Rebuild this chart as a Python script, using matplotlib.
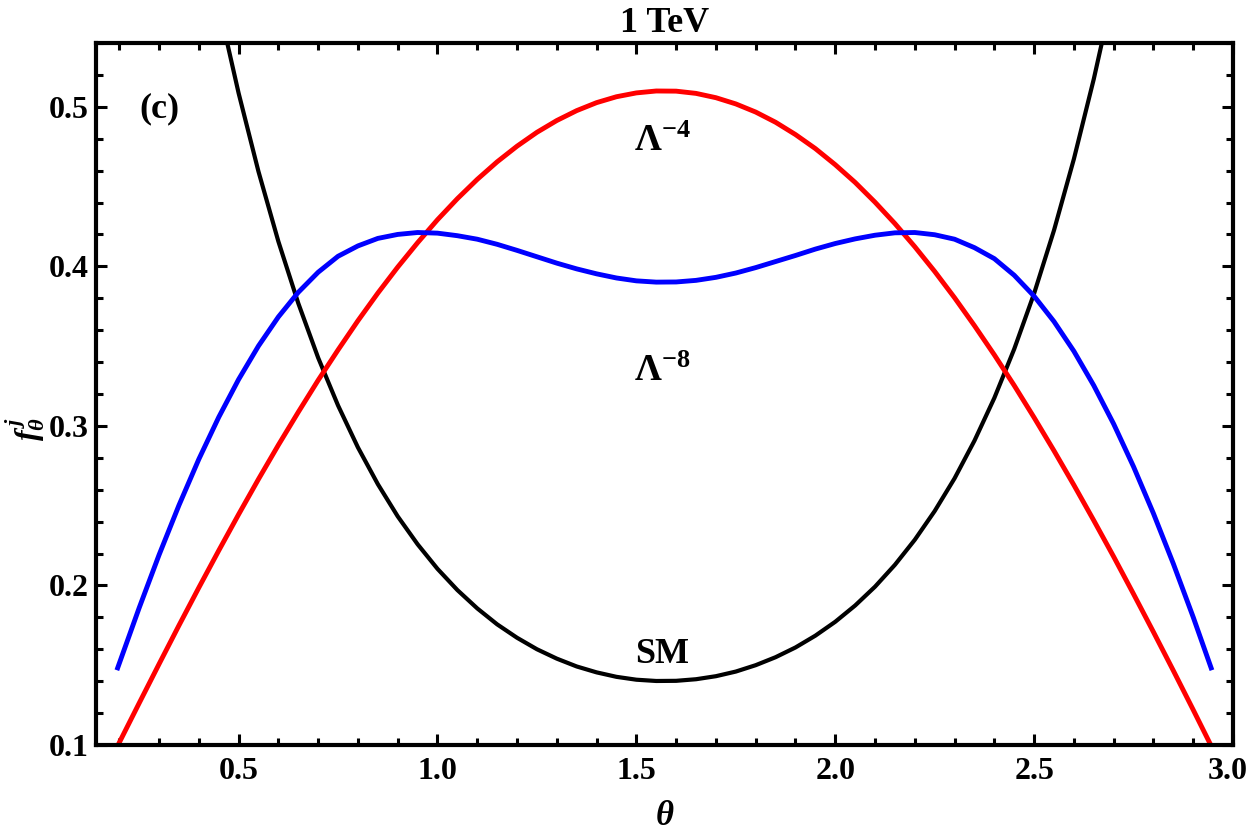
import matplotlib
matplotlib.use("Agg")
import matplotlib.pyplot as plt
from matplotlib.ticker import MultipleLocator, FormatStrFormatter
from matplotlib.transforms import ScaledTranslation

plt.rcParams['font.family'] = 'Liberation Serif'
plt.rcParams['font.weight'] = 'bold'
plt.rcParams['mathtext.fontset'] = 'custom'
plt.rcParams['mathtext.rm'] = 'Liberation Serif:bold'
plt.rcParams['mathtext.bf'] = 'Liberation Serif:bold'
plt.rcParams['mathtext.it'] = 'Liberation Serif:bold:italic'

# values
theta_sm = [0.45, 0.50, 0.55, 0.60, 0.65, 0.70, 0.75, 0.80, 0.85, 0.90, 0.95,
            1.00, 1.05, 1.10, 1.15, 1.20, 1.25, 1.30, 1.35, 1.40, 1.45, 1.50,
            1.55, 1.60, 1.65, 1.70, 1.75, 1.80, 1.85, 1.90, 1.95, 2.00, 2.05,
            2.10, 2.15, 2.20, 2.25, 2.30, 2.35, 2.40, 2.45, 2.50, 2.55, 2.60,
            2.65, 2.70]
f_sm = [0.5635, 0.5086, 0.4594, 0.4156, 0.3769, 0.3427, 0.3128, 0.2865, 0.2635,
        0.2433, 0.2258, 0.2104, 0.1971, 0.1856, 0.1756, 0.1672, 0.1600, 0.1541,
        0.1492, 0.1455, 0.1427, 0.1409, 0.1401, 0.1402, 0.1412, 0.1431, 0.1460,
        0.1500, 0.1550, 0.1611, 0.1685, 0.1772, 0.1874, 0.1992, 0.2129, 0.2286,
        0.2466, 0.2671, 0.2907, 0.3175, 0.3482, 0.3830, 0.4226, 0.4673, 0.5174,
        0.5732]

theta = [0.196, 0.25, 0.30, 0.35, 0.40, 0.45, 0.50, 0.55, 0.60, 0.65, 0.70,
         0.75, 0.80, 0.85, 0.90, 0.95, 1.00, 1.05, 1.10, 1.15, 1.20, 1.25,
         1.30, 1.35, 1.40, 1.45, 1.50, 1.55, 1.60, 1.65, 1.70, 1.75, 1.80,
         1.85, 1.90, 1.95, 2.00, 2.05, 2.10, 2.15, 2.20, 2.25, 2.30, 2.35,
         2.40, 2.45, 2.50, 2.55, 2.60, 2.65, 2.70, 2.75, 2.80, 2.85, 2.90, 2.945]
f_l4 = [0.0995, 0.1262, 0.1507, 0.1749, 0.1986, 0.2218, 0.2445, 0.2666, 0.2880,
        0.3086, 0.3286, 0.3476, 0.3659, 0.3832, 0.3995, 0.4148, 0.4292, 0.4424,
        0.4545, 0.4655, 0.4753, 0.4840, 0.4914, 0.4976, 0.5026, 0.5063, 0.5087,
        0.5099, 0.5098, 0.5084, 0.5057, 0.5018, 0.4967, 0.4903, 0.4826, 0.4738,
        0.4637, 0.4526, 0.4402, 0.4268, 0.4123, 0.3968, 0.3803, 0.3628, 0.3445,
        0.3253, 0.3052, 0.2844, 0.2629, 0.2407, 0.2180, 0.1946, 0.1708, 0.1466,
        0.1220, 0.0995]
f_l8 = [0.1483, 0.1859, 0.2191, 0.2502, 0.2791, 0.3054, 0.3291, 0.3501, 0.3683,
        0.3837, 0.3963, 0.4063, 0.4128, 0.4175, 0.4200, 0.4212, 0.4208, 0.4192,
        0.4170, 0.4138, 0.4100, 0.4060, 0.4020, 0.3984, 0.3953, 0.3927, 0.3909,
        0.3901, 0.3902, 0.3912, 0.3931, 0.3958, 0.3992, 0.4030, 0.4068, 0.4108,
        0.4143, 0.4172, 0.4195, 0.4210, 0.4212, 0.4198, 0.4170, 0.4117, 0.4048,
        0.3944, 0.3813, 0.3654, 0.3468, 0.3253, 0.3012, 0.2744, 0.2451, 0.2136,
        0.1801, 0.1483]

fig = plt.figure(figsize=(12.5, 8.36), dpi=100)
ax = fig.add_axes([0.0768, 0.1089, 0.9096, 0.8397])

ax.plot(theta_sm, f_sm, color='black', lw=3.0)
ax.plot(theta, f_l4, color='#ff0000', lw=3.5)
ax.plot(theta, f_l8, color='#0000ff', lw=3.5)

ax.set_xlim(0.1415, 3.0)
ax.set_ylim(0.1, 0.54)

ax.xaxis.set_major_locator(MultipleLocator(0.5))
ax.xaxis.set_minor_locator(MultipleLocator(0.1))
ax.yaxis.set_major_locator(MultipleLocator(0.1))
ax.yaxis.set_minor_locator(MultipleLocator(0.02))
ax.xaxis.set_major_formatter(FormatStrFormatter('%.1f'))
ax.yaxis.set_major_formatter(FormatStrFormatter('%.1f'))

ax.tick_params(which='both', direction='in', top=True, right=True,
               labelsize=23, width=2.2)
ax.tick_params(which='major', length=8)
ax.tick_params(which='minor', length=5)
ax.tick_params(axis='x', pad=9)
ax.tick_params(axis='y', pad=5)
for sp in ax.spines.values():
    sp.set_linewidth(3.0)

ax.set_title('1 TeV', fontsize=26, fontweight='bold', pad=8)
ax.set_xlabel(r'$\theta$', fontsize=25, labelpad=10)
ax.set_ylabel(r'$f_{\theta}^{\,j}$', fontsize=23)
ax.yaxis.set_label_coords(-0.043, 0.45)

ax.text(0.300, 0.499, '(c)', fontsize=26, fontweight='bold', ha='center', va='center')
ax.text(1.565, 0.478, r'$\Lambda^{-4}$', fontsize=27, ha='center', va='center')
ax.text(1.565, 0.334, r'$\Lambda^{-8}$', fontsize=27, ha='center', va='center')
ax.text(1.566, 0.157, 'SM', fontsize=26, fontweight='bold', ha='center', va='center')

# nudge the last x tick label so it stays inside the figure
fig.canvas.draw()
for lbl in ax.get_xticklabels():
    if lbl.get_text() == '3.0':
        lbl.set_transform(lbl.get_transform() +
                          ScaledTranslation(-0.05, 0, fig.dpi_scale_trans))

fig.savefig('out.png', dpi=100)
